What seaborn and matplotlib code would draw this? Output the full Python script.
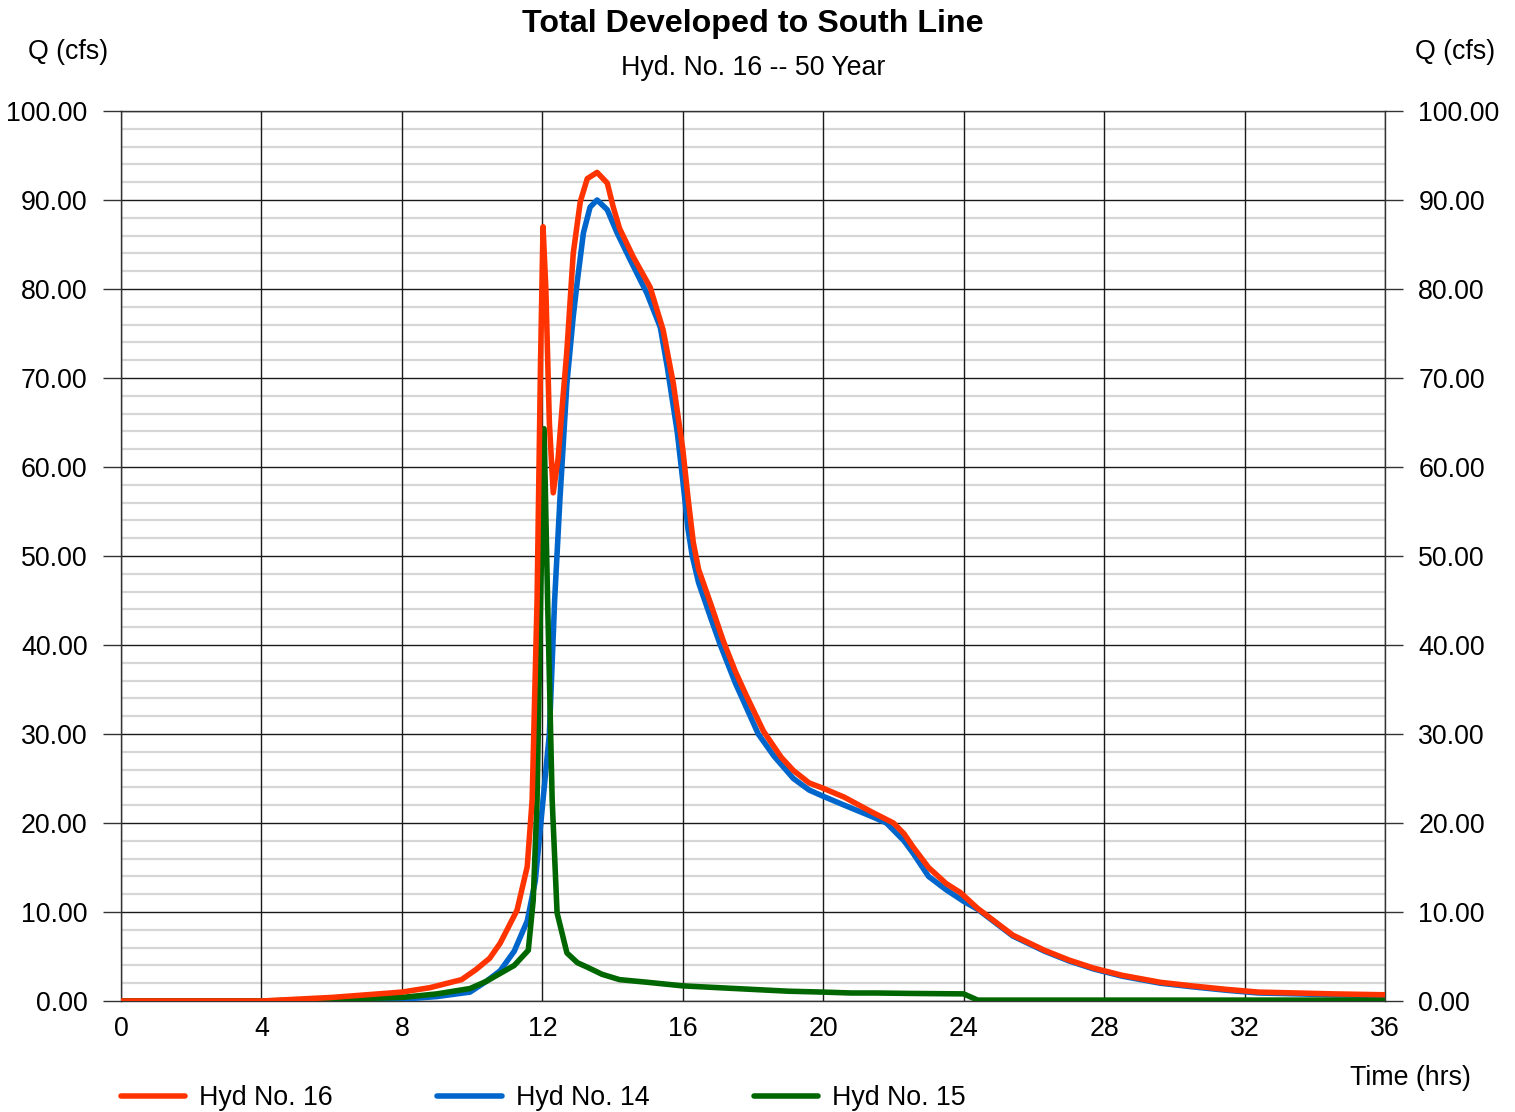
import seaborn as sns
import matplotlib.pyplot as plt
import pandas as pd
import numpy as np

# Hyd No. 16 (total = 14 + 15)
t16 = [0, 4.0, 4.5, 6.0, 7.0, 8.0, 8.8, 9.7, 10.1, 10.5, 10.8, 11.28, 11.57, 11.71,
       11.85, 11.95, 12.02, 12.1, 12.2, 12.31, 12.45, 12.55, 12.7, 12.88, 13.08, 13.28,
       13.56, 13.85, 14.02, 14.2, 14.59, 15.07, 15.44, 15.73, 16.0, 16.15, 16.3, 16.45,
       16.78, 17.15, 17.5, 17.8, 18.3, 18.8, 19.15, 19.6, 20.0, 20.6, 21.4, 22.0, 22.3,
       22.56, 23.0, 23.5, 23.9, 24.4, 25.0, 25.4, 26.3, 27.0, 27.7, 28.5, 29.6, 30.5,
       31.5, 32.4, 33.5, 34.5, 36.0]
q16 = [0, 0, 0.1, 0.4, 0.7, 1.0, 1.5, 2.4, 3.5, 4.8, 6.5, 10.2, 15.1, 22.6,
       45.0, 72.0, 87.0, 80.0, 65.0, 57.1, 61.0, 66.0, 73.1, 84.0, 89.8, 92.4,
       93.1, 91.9, 89.2, 86.8, 83.6, 80.2, 75.4, 69.4, 62.0, 56.5, 51.5, 48.5,
       44.8, 40.5, 37.0, 34.4, 30.3, 27.4, 25.9, 24.5, 23.9, 22.9, 21.2, 20.0, 18.8,
       17.3, 15.0, 13.2, 12.2, 10.4, 8.6, 7.4, 5.7, 4.6, 3.7, 2.9, 2.1, 1.7,
       1.3, 1.0, 0.9, 0.8, 0.7]

# Hyd No. 14
t14 = [0, 5.0, 6.0, 7.0, 8.0, 9.0, 9.94, 10.4, 10.8, 11.2, 11.57, 11.8, 12.02, 12.2,
       12.35, 12.5, 12.7, 12.88, 13.0, 13.17, 13.36, 13.56, 13.85, 14.13, 14.5, 14.98,
       15.36, 15.56, 15.84, 16.0, 16.15, 16.27, 16.45, 16.8, 17.07, 17.5, 18.15, 18.6,
       19.15, 19.6, 20.0, 20.6, 21.4, 21.8, 22.3, 22.56, 23.0, 23.5, 24.0, 24.4, 25.0,
       25.4, 26.3, 27.0, 27.7, 28.5, 29.6, 30.5, 31.5, 32.4, 33.5, 34.5, 36.0]
q14 = [0, 0, 0.05, 0.1, 0.2, 0.5, 1.0, 2.2, 3.4, 5.6, 9.0, 13.5, 22.6, 30.0,
       45.0, 56.3, 69.4, 76.9, 81.0, 86.3, 89.2, 90.0, 88.9, 86.3, 83.3, 79.5,
       75.7, 71.2, 64.0, 58.5, 53.0, 50.0, 47.0, 43.0, 40.0, 35.7, 30.0, 27.5,
       25.0, 23.7, 23.0, 22.0, 20.7, 20.0, 18.0, 16.6, 14.0, 12.5, 11.2, 10.3, 8.5,
       7.3, 5.6, 4.5, 3.6, 2.8, 2.0, 1.6, 1.2, 0.9, 0.8, 0.7, 0.6]

# Hyd No. 15
t15 = [0, 4.0, 5.0, 6.0, 7.0, 8.0, 9.0, 9.94, 10.4, 10.8, 11.2, 11.6, 11.74, 11.85,
       11.95, 12.05, 12.15, 12.28, 12.42, 12.7, 13.0, 13.28, 13.7, 14.2, 15.0, 16.0,
       17.0, 18.0, 19.0, 20.0, 20.8, 21.5, 22.5, 24.0, 24.4, 36.0]
q15 = [0, 0, 0.1, 0.2, 0.3, 0.4, 0.8, 1.4, 2.2, 3.1, 4.0, 5.7, 11.3, 22.6,
       45.0, 64.3, 45.0, 22.6, 9.9, 5.4, 4.3, 3.8, 3.0, 2.4, 2.1, 1.7,
       1.5, 1.3, 1.1, 1.0, 0.9, 0.9, 0.85, 0.8, 0.1, 0.1]

series = {
    'Hyd No. 14': (t14, q14, '#0066CC'),
    'Hyd No. 15': (t15, q15, '#006600'),
    'Hyd No. 16': (t16, q16, '#FF3300'),
}
legend_order = ['Hyd No. 16', 'Hyd No. 14', 'Hyd No. 15']

sns.set_theme(style='white')
plt.rcParams['font.family'] = ['Liberation Sans', 'DejaVu Sans']
plt.rcParams['text.color'] = 'black'
plt.rcParams['xtick.color'] = 'black'
plt.rcParams['ytick.color'] = 'black'

FS = 19.3

fig = plt.figure(figsize=(15.15, 11.12), dpi=100)
ax = fig.add_axes([121 / 1515, 1 - 1001 / 1112, 1264 / 1515, 890 / 1112])

for name, (t, q, c) in series.items():
    df = pd.DataFrame({'t': t, 'q': q})
    sns.lineplot(data=df, x='t', y='q', ax=ax, color=c, lw=4.0, label=name,
                 sort=False, estimator=None, solid_capstyle='round',
                 solid_joinstyle='round', zorder=3)

ax.set_xlim(0, 36)
ax.set_ylim(0, 100)
ax.set_xticks(np.arange(0, 37, 4))
ax.set_yticks(np.arange(0, 101, 10))
ax.set_yticks(np.arange(0, 101, 2), minor=True)
ax.yaxis.set_major_formatter(plt.FormatStrFormatter('%.2f'))
ax.set_xlabel('')
ax.set_ylabel('')

ax.grid(which='minor', axis='y', color='#d6d6d6', lw=1.6)
ax.grid(which='major', axis='both', color='#1a1a1a', lw=1.0)
ax.set_axisbelow(True)
ax.xaxis.set_zorder(0.7)  # vertical grid over the light minor lines

ax.tick_params(axis='y', which='major', length=13, width=1, color='#333333',
               direction='out', left=True, right=True, labelleft=True,
               labelright=True, pad=11, labelsize=FS)
ax.tick_params(axis='y', which='minor', length=0)
ax.tick_params(axis='x', length=0, pad=11, labelsize=FS)

for s in ax.spines.values():
    s.set_visible(True)
    s.set_color('#333333')
    s.set_linewidth(1.0)

fig.text(0.497, 1 - 24 / 1112, 'Total Developed to South Line', ha='center',
         va='center', fontsize=23.2, fontweight='bold')
fig.text(0.497, 1 - 68 / 1112, 'Hyd. No. 16 -- 50 Year', ha='center',
         va='center', fontsize=FS)
fig.text(68 / 1515, 1 - 52 / 1112, 'Q (cfs)', ha='center', va='center', fontsize=FS)
fig.text(1455 / 1515, 1 - 52 / 1112, 'Q (cfs)', ha='center', va='center', fontsize=FS)
fig.text(1410 / 1515, 1 - 1078 / 1112, 'Time (hrs)', ha='center', va='center',
         fontsize=FS)

handles, labels = ax.get_legend_handles_labels()
lookup = dict(zip(labels, handles))
ax.get_legend().remove()
fig.legend([lookup[n] for n in legend_order], legend_order, loc='center left',
           bbox_to_anchor=(121 / 1515, 1 - 1098 / 1112), ncol=3, frameon=False,
           fontsize=FS, handlelength=2.4, handletextpad=0.52, columnspacing=3.9,
           borderpad=0, borderaxespad=0)

fig.savefig('out.png', dpi=100)
